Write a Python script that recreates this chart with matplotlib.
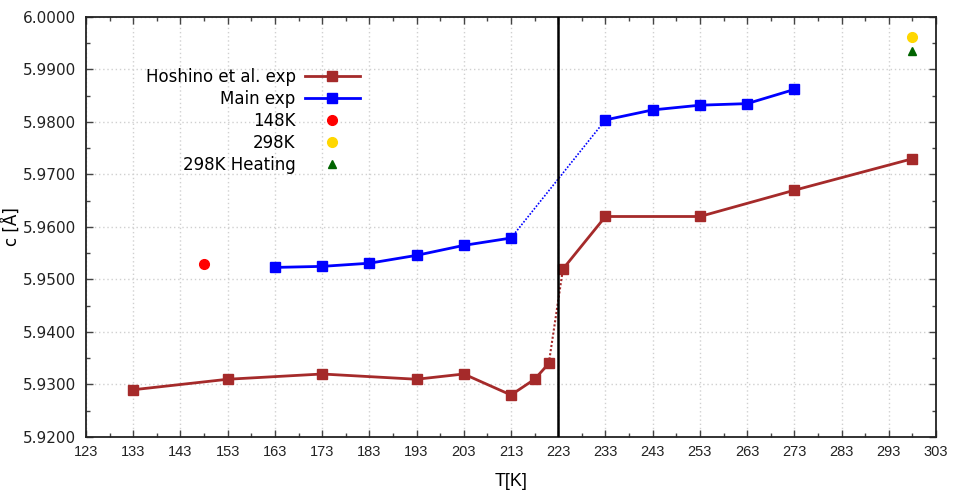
import matplotlib.pyplot as plt
from matplotlib.ticker import MultipleLocator, FormatStrFormatter

# Hoshino et al. lattice parameter c vs temperature
hosh_T = [133, 153, 173, 193, 203, 213, 218, 221, 224, 233, 253, 273, 298]
hosh_c = [5.9290, 5.9310, 5.9320, 5.9310, 5.9320, 5.9280, 5.9310, 5.9340,
          5.9520, 5.9620, 5.9620, 5.9670, 5.9730]

# main experiment
main_T = [163, 173, 183, 193, 203, 213, 233, 243, 253, 263, 273]
main_c = [5.9523, 5.9525, 5.9531, 5.9546, 5.9565, 5.9579, 5.9804, 5.9823,
          5.9832, 5.9835, 5.9862]

# single measurements
T_148, c_148 = 148, 5.9530
T_298, c_298 = 298, 5.9962
T_298h, c_298h = 298, 5.9935

T_transition = 223

brown = '#a52a2a'
blue = '#0000ff'

fig = plt.figure(figsize=(9.55, 4.96), dpi=100)
ax = fig.add_axes([86/955, 59/496, 850/955, 420/496])

# Hoshino: solid except the jump across the transition
jh = 7
ax.plot(hosh_T[:jh+1], hosh_c[:jh+1], color=brown, lw=2, marker='s', ms=6.5, zorder=3)
ax.plot(hosh_T[jh:jh+2], hosh_c[jh:jh+2], color=brown, lw=1.5, ls=(0, (1, 1)), zorder=3)
ax.plot(hosh_T[jh+1:], hosh_c[jh+1:], color=brown, lw=2, marker='s', ms=6.5, zorder=3)
ax.plot([], [], color=brown, lw=2, marker='s', ms=6.5, label='Hoshino et al. exp')

# main exp: dotted between 213 and 233
jm = 5
ax.plot(main_T[:jm+1], main_c[:jm+1], color=blue, lw=2, marker='s', ms=6.5, zorder=3)
ax.plot(main_T[jm:jm+2], main_c[jm:jm+2], color=blue, lw=1.2, ls=(0, (1, 1)), zorder=3)
ax.plot(main_T[jm+1:], main_c[jm+1:], color=blue, lw=2, marker='s', ms=6.5, zorder=3)
ax.plot([], [], color=blue, lw=2, marker='s', ms=6.5, label='Main exp')

ax.plot([T_148], [c_148], 'o', color='#ff0000', ms=7, label='148K', zorder=4)
ax.plot([T_298], [c_298], 'o', color='#ffd700', ms=7, label='298K', zorder=4)
ax.plot([T_298h], [c_298h], '^', color='#006400', ms=6, label='298K Heating', zorder=4)

ax.axvline(T_transition, color='black', lw=1.8, zorder=5)

ax.set_xlim(123, 303)
ax.set_ylim(5.92, 6.00)
ax.xaxis.set_major_locator(MultipleLocator(10, offset=3))
ax.xaxis.set_minor_locator(MultipleLocator(5, offset=3))
ax.yaxis.set_major_locator(MultipleLocator(0.01))
ax.yaxis.set_minor_locator(MultipleLocator(0.005))
ax.yaxis.set_major_formatter(FormatStrFormatter('%.4f'))

ax.tick_params(which='both', direction='in', top=True, right=True, color='#444444')
ax.tick_params(which='major', length=5, width=1)
ax.tick_params(which='minor', length=3, width=1)
ax.tick_params(axis='y', labelsize=11, pad=7, labelcolor='#222222')
ax.tick_params(axis='x', labelsize=10.5, pad=6, labelcolor='#222222')
for lab in ax.get_xticklabels():
    lab.set_family(['Liberation Sans Narrow', 'Liberation Sans', 'DejaVu Sans'])

for s in ax.spines.values():
    s.set_linewidth(1.3)
    s.set_color('#222222')

ax.grid(True, which='major', color='#d0d0d0', ls=(0, (1, 2)), lw=1)
ax.set_axisbelow(True)

ax.set_xlabel('T[K]', fontsize=13, family=['Liberation Sans Narrow', 'Liberation Sans', 'DejaVu Sans'],
              labelpad=10)
ax.set_ylabel('c [Å]', fontsize=12, labelpad=2)

ax.legend(loc='upper right', bbox_to_anchor=(0.322, 0.878), frameon=False,
          markerfirst=False, fontsize=12, handlelength=3.3, handletextpad=0.55,
          labelspacing=0.24, borderpad=0, borderaxespad=0, numpoints=1)

fig.savefig('out.png', dpi=100)
